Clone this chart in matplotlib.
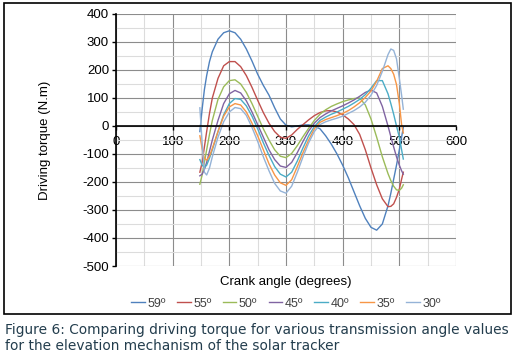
import matplotlib
matplotlib.use('Agg')
import matplotlib.pyplot as plt
from matplotlib.patches import Rectangle

plt.rcParams['font.family'] = ['Liberation Sans', 'DejaVu Sans']
plt.rcParams['axes.unicode_minus'] = False

# crank angle (degrees), shared by all curves
angle = [148, 152, 156, 160, 165, 170, 180, 190, 200, 210, 220, 230, 240, 250,
         260, 270, 280, 290, 300, 310, 320, 330, 340, 350, 360, 370, 380, 390,
         400, 410, 420, 430, 440, 450, 460, 470, 480, 485, 490, 495, 500, 504, 507]

t59 = [-20, 60, 130, 180, 230, 265, 310, 333, 340, 333, 310, 275, 232, 185,
       145, 110, 65, 25, 3, -3, 0, 4, 4, 0, -10, -35, -65, -100,
       -140, -185, -235, -285, -330, -362, -372, -350, -285, -240, -190, -140, -85, -40, -5]
t55 = [-165, -130, -75, -20, 45, 100, 170, 215, 230, 230, 212, 180, 138, 92,
       48, 10, -20, -40, -44, -32, -12, 5, 22, 37, 48, 54, 55, 50,
       40, 25, 5, -30, -85, -150, -210, -260, -288, -287, -278, -255, -225, -190, -165]
t50 = [-208, -175, -130, -85, -30, 20, 95, 140, 162, 165, 150, 120, 80, 35,
       -10, -50, -85, -108, -113, -98, -70, -38, -8, 20, 42, 58, 70, 79,
       87, 93, 98, 100, 75, 25, -40, -110, -170, -195, -215, -228, -230, -222, -210]
t45 = [-178, -172, -155, -130, -90, -50, 20, 80, 115, 127, 118, 90, 50, 5,
       -40, -85, -120, -143, -148, -130, -95, -55, -18, 10, 30, 43, 54, 63,
       72, 82, 93, 106, 120, 128, 118, 70, 0, -38, -75, -110, -140, -160, -172]
t40 = [-120, -140, -148, -140, -115, -85, -20, 40, 80, 98, 95, 72, 35, -10,
       -60, -105, -145, -172, -182, -165, -125, -78, -35, -2, 20, 32, 42, 50,
       60, 70, 82, 95, 112, 135, 162, 162, 115, 80, 42, 0, -40, -85, -118]
t35 = [-35, -80, -115, -122, -108, -80, -20, 35, 68, 80, 75, 50, 10, -35,
       -85, -135, -175, -203, -212, -192, -145, -95, -50, -10, 13, 23, 30, 37,
       45, 55, 68, 83, 102, 125, 160, 205, 215, 205, 185, 148, 80, 5, -25]
t30 = [65, -60, -165, -175, -150, -110, -40, 15, 50, 66, 62, 38, -5, -55,
       -110, -160, -205, -232, -240, -215, -165, -110, -60, -20, 5, 15, 22, 28,
       35, 45, 55, 68, 85, 110, 145, 195, 255, 275, 270, 240, 170, 110, 60]

series = [t59, t55, t50, t45, t40, t35, t30]
labels = ['59º', '55º', '50º', '45º', '40º', '35º', '30º']
colors = ['#4F81BD', '#C0504D', '#9BBB59', '#8064A2', '#4BACC6', '#F79646', '#95B3D7']

fig = plt.figure(figsize=(5.13, 3.57), dpi=100)
ax = fig.add_axes([0.2261, 0.2549, 0.6628, 0.7059])

for ys, lab, c in zip(series, labels, colors):
    ax.plot(angle, ys, color=c, lw=1.0, label=lab)

ax.set_xlim(0, 600)
ax.set_ylim(-500, 400)
ax.set_xticks(range(0, 601, 100))
ax.set_yticks(range(-500, 401, 100))
ax.set_xticks(range(0, 601, 50), minor=True)
ax.set_yticks(range(-500, 401, 50), minor=True)
ax.grid(True, which='major', color='#8c8c8c', lw=0.8)
ax.grid(True, which='minor', color='#dcdcdc', lw=0.8)
ax.set_axisbelow(True)

ax.spines['top'].set_visible(False)
ax.spines['right'].set_visible(False)
ax.spines['bottom'].set_position(('data', 0))
ax.spines['bottom'].set_linewidth(1.2)
ax.spines['left'].set_linewidth(1.2)
ax.tick_params(which='minor', length=0)
ax.tick_params(which='major', length=3, width=1, labelsize=9.5, colors='black', pad=2)
ax.tick_params(axis='x', which='major', pad=4)

ax.set_xlabel('Crank angle (degrees)', fontsize=9.5, labelpad=0)
ax.xaxis.set_label_coords(0.5, -0.04)
ax.set_ylabel('Driving torque (N.m)', fontsize=9.5)
ax.yaxis.set_label_coords(-0.19, 0.5)

ax.legend(loc='center', bbox_to_anchor=(0.5, -0.15), ncol=7, frameon=False,
          fontsize=9, handlelength=1.1, handletextpad=0.2, columnspacing=0.9,
          labelcolor='#404040')

fig.patches.append(Rectangle((4 / 513, 1 - 314 / 357), 507 / 513, 311 / 357,
                             transform=fig.transFigure, fill=False, ec='black', lw=1.2))

fig.text(5 / 513, 1 - 330 / 357,
         'Figure 6: Comparing driving torque for various transmission angle values',
         fontsize=9.9, color='#233d4d', family='DejaVu Sans', va='center')
fig.text(5 / 513, 1 - 346 / 357,
         'for the elevation mechanism of the solar tracker',
         fontsize=9.9, color='#233d4d', family='DejaVu Sans', va='center')

fig.savefig('out.png', dpi=100)
